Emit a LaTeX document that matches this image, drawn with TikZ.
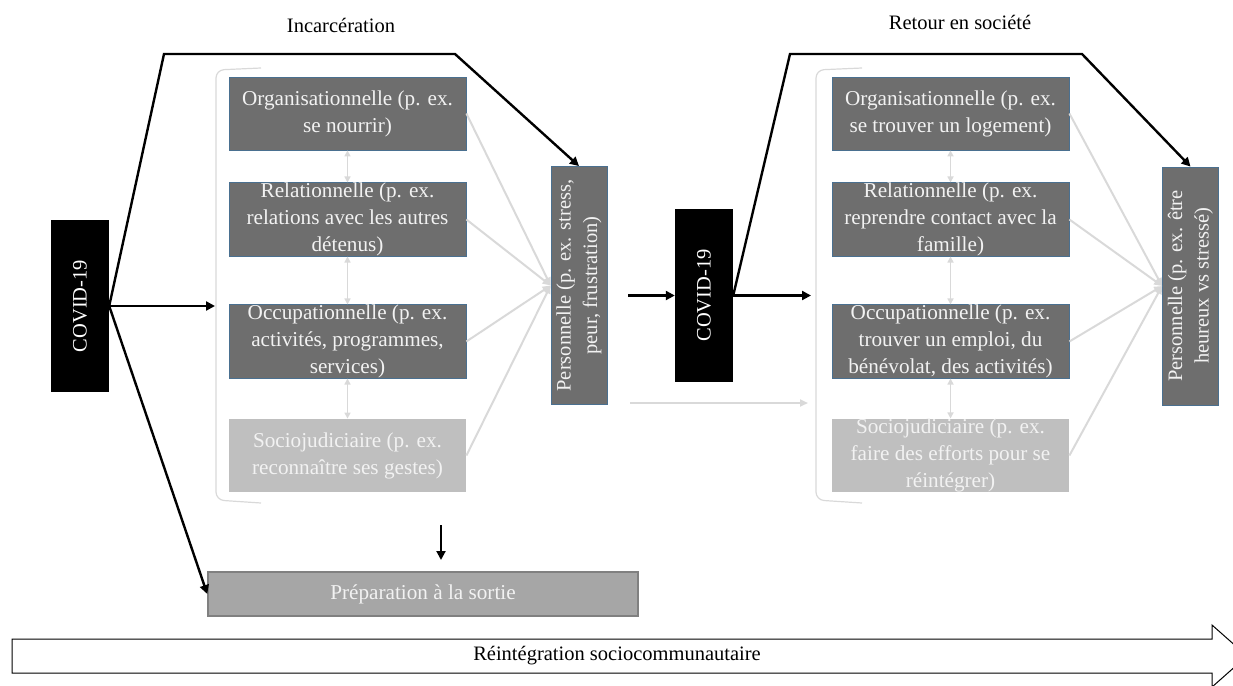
\documentclass[tikz,border=0pt]{standalone}
\usepackage{fontspec}
\setmainfont{Liberation Serif}
\usetikzlibrary{arrows.meta}
\definecolor{boxfill}{HTML}{6E6E6E}
\definecolor{boxline}{HTML}{4A7090}
\definecolor{socfill}{HTML}{BFBFBF}
\definecolor{prepfill}{HTML}{A6A6A6}
\definecolor{prepline}{HTML}{808080}
\definecolor{connlight}{HTML}{D9D9D9}
\definecolor{txtwhite}{HTML}{F2F2F2}
\begin{document}
\begin{tikzpicture}[x=1pt,y=-1pt,
  txt/.style={font=\fontsize{20.5}{26.5}\selectfont},
  btxt/.style={font=\fontsize{21.2}{27}\selectfont},
  darkbox/.style={btxt, rectangle, draw=boxline, line width=0.8pt, fill=boxfill, text=txtwhite, align=center, inner sep=0pt, minimum width=237pt, minimum height=73pt},
  socbox/.style={darkbox, draw=none, fill=socfill},
  covbox/.style={txt, rectangle, fill=black, text=white, rotate=90, inner sep=0pt, minimum height=58pt},
  persbox/.style={darkbox, txt, rotate=90, minimum width=238pt, minimum height=56pt},
  prepbox/.style={btxt, rectangle, fill=prepfill, draw=prepline, line width=1.5pt, text=txtwhite, inner sep=0pt, minimum width=430pt, minimum height=44pt},
  blk/.style={line width=2.4pt, -{Triangle[length=9pt,width=9pt]}},
  gry/.style={connlight, line width=2pt, -{Triangle[length=8pt,width=7pt]}},
  gdbl/.style={connlight, line width=1.6pt, {Triangle[length=6pt,width=6pt]}-{Triangle[length=6pt,width=6pt]}},
  brk/.style={connlight, line width=1.2pt, rounded corners=8pt}
]
\path[use as bounding box] (0,0) rectangle (1233,685);
\clip (0,0) rectangle (1233,685);

% titles
\node[txt] (t1) at (341,25) {Incarcération};
\node[txt] (t2) at (960,22) {Retour en société};

% left group
\node[darkbox] (org1) at (347.5,113.5) {Organisationnelle (p. ex.\\se nourrir)};
\node[darkbox] (rel1) at (347.5,219.5) {Relationnelle (p. ex.\\relations avec les autres\\détenus)};
\node[darkbox] (occ1) at (347.5,341.5) {Occupationnelle (p. ex.\\activités, programmes,\\services)};
\node[socbox]  (soc1) at (347.5,455.5) {Sociojudiciaire (p. ex.\\reconnaître ses gestes)};
\node[persbox] (pers1) at (579,285.5) {Personnelle (p. ex. stress,\\peur, frustration)};
\node[covbox, minimum width=172pt] (cov1) at (80,306) {COVID-19};
\node[prepbox] (prep) at (423,594) {Préparation à la sortie};

% right group
\node[darkbox] (org2) at (950.5,113.5) {Organisationnelle (p. ex.\\se trouver un logement)};
\node[darkbox] (rel2) at (950.5,219.5) {Relationnelle (p. ex.\\reprendre contact avec la\\famille)};
\node[darkbox] (occ2) at (950.5,341.5) {Occupationnelle (p. ex.\\trouver un emploi, du\\bénévolat, des activités)};
\node[socbox]  (soc2) at (950.5,455.5) {Sociojudiciaire (p. ex.\\faire des efforts pour se\\réintégrer)};
\node[persbox] (pers2) at (1190.5,286) {Personnelle (p. ex. être\\heureux vs stressé)};
\node[covbox, minimum width=173pt] (cov2) at (704,295.5) {COVID-19};

% brackets
\draw[brk] (261,68) -- (216,70) -- (216,500) -- (261,503);
\draw[brk] (862,68) -- (816,70) -- (816,500) -- (862,503);

% vertical double arrows
\draw[gdbl] (org1.south) -- (rel1.north);
\draw[gdbl] (rel1.south) -- (occ1.north);
\draw[gdbl] (occ1.south) -- (soc1.north);
\draw[gdbl] (org2.south) -- (rel2.north);
\draw[gdbl] (rel2.south) -- (occ2.north);
\draw[gdbl] (occ2.south) -- (soc2.north);

% converging gray lines
\foreach \b in {org1,rel1,occ1,soc1} \draw[gry] (\b.east) -- (pers1.north);
\foreach \b in {org2,rel2,occ2,soc2} \draw[gry] (\b.east) -- (pers2.north);

% coordinates
\coordinate (a1) at (215,306);
\coordinate (b1) at (164,54);
\coordinate (b2) at (455,54);
\coordinate (d1) at (441,525);
\coordinate (d2) at (441,560);
\coordinate (e1) at (628,295.5);
\coordinate (e2) at (811,295.5);
\coordinate (f1) at (790,54);
\coordinate (f2) at (1082,54);
\coordinate (g1) at (630,403);
\coordinate (g2) at (808,403);

% black connectors
\draw[blk] (cov1.south) -- (a1);
\draw[blk] (cov1.south) -- (b1) -- (b2) -- (pers1.east);
\draw[blk] (cov1.south) -- (prep.west);
\draw[blk, line width=2pt] (d1) -- (d2);
\draw[blk] (e1) -- (cov2.north);
\draw[blk] (cov2.south) -- (e2);
\draw[blk] (cov2.south) -- (f1) -- (f2) -- (pers2.east);
\draw[gry, line width=2.5pt] (g1) -- (g2);

% big arrow
\draw[line width=1pt, fill=white] (12,639) -- (1212,639) -- (1212,625) -- (1247,656) -- (1212,687) -- (1212,673) -- (12,673) -- cycle;
\node[txt] (reint) at (617,656) {Réintégration sociocommunautaire};
\end{tikzpicture}
\end{document}
